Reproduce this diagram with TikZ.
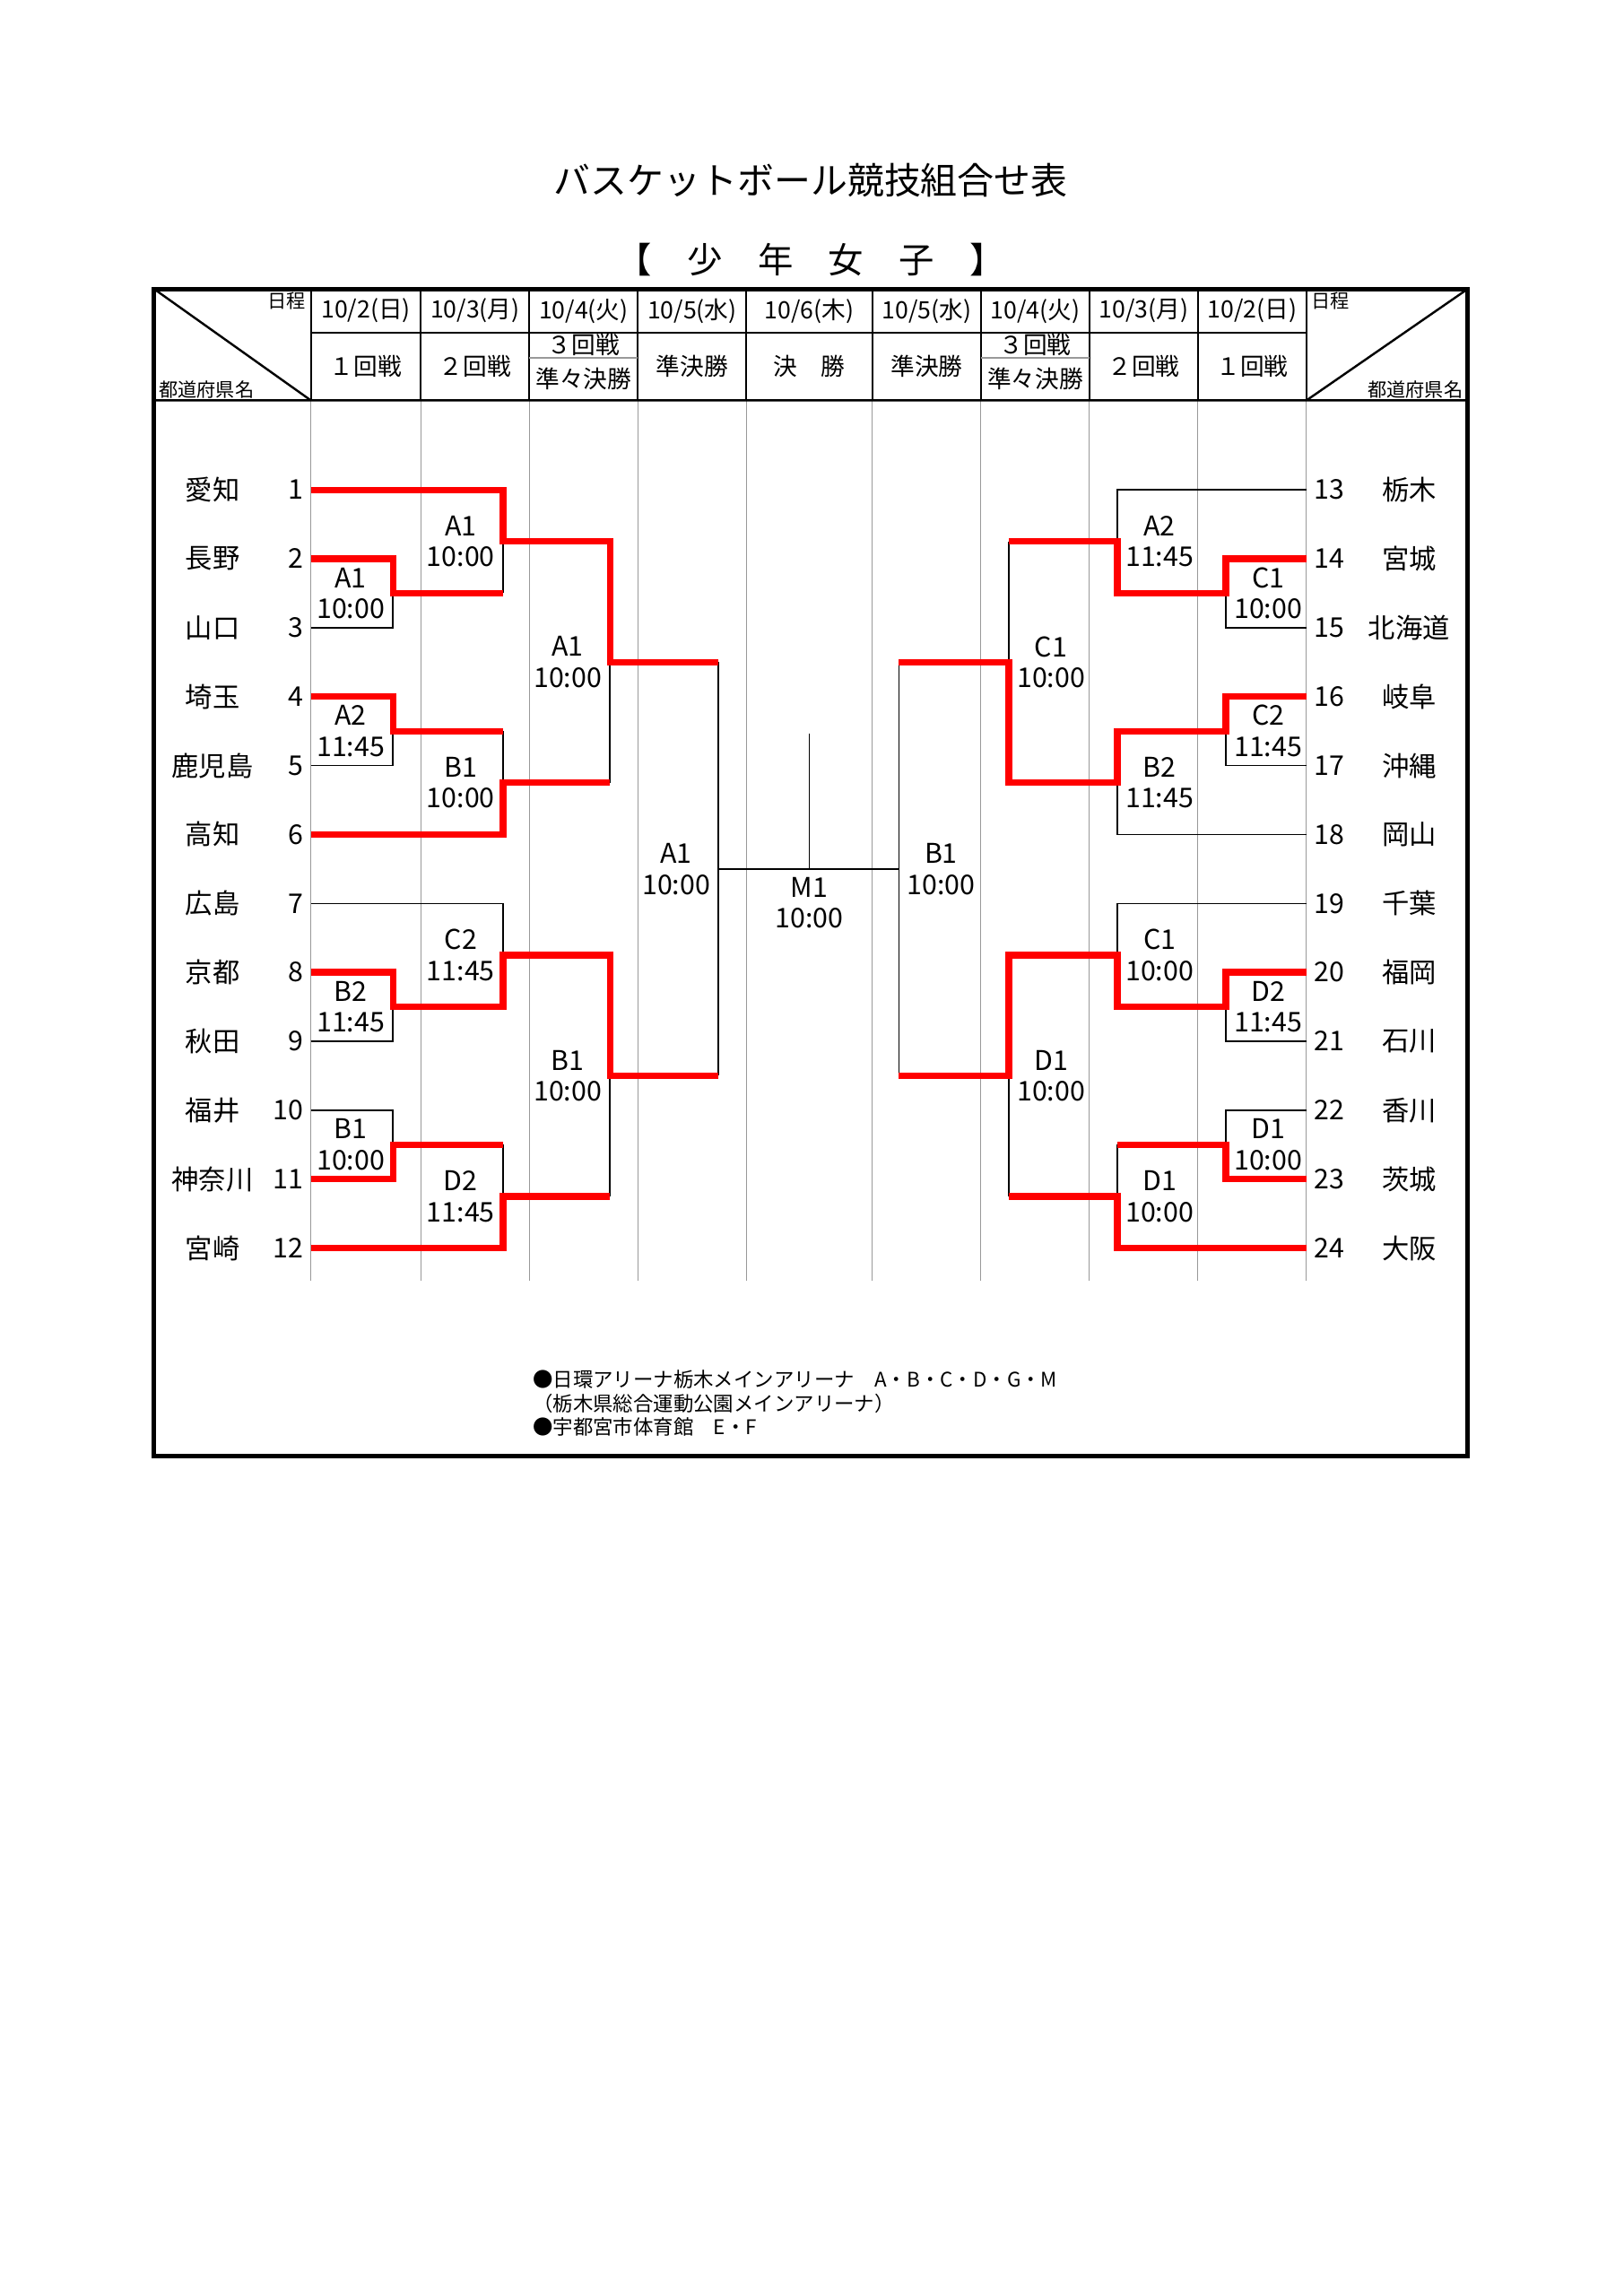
\documentclass[tikz,border=0pt]{standalone}
\usepackage{fontspec}
\setmainfont{Noto Sans CJK JP}
\usetikzlibrary{positioning, calc}

\newcommand{\bout}[4]{\path (#3 -| #2) coordinate (#1t) (#4 -| #2) coordinate (#1b) ($(#1t)!.5!(#1b)$) coordinate (#1);}

\begin{document}
\begin{tikzpicture}[x=0.1897mm, y=-0.1897mm,
    win/.style={red, line width=2.4pt},
    lose/.style={black, line width=0.5pt},
    gline/.style={black!40, line width=0.35pt},
    cell/.style={black, line width=0.6pt},
    team/.style={font=\fontsize{10}{12}\selectfont, inner sep=0pt},
    game/.style={font=\fontsize{10}{11.4}\selectfont, align=center, inner sep=0pt},
    head/.style={font=\fontsize{8.8}{10}\selectfont, inner sep=0pt},
    small/.style={font=\fontsize{7}{9}\selectfont, inner sep=0pt}]
  \useasboundingbox (0,0) rectangle (1107,1565.6);

  \node[font=\fontsize{13.5}{16}\selectfont] (title) at (553,123) {バスケットボール競技組合せ表};
  \node[font=\fontsize{13}{16}\selectfont] (sub) at (553,177) {【　少　年　女　子　】};

  % table
  \foreach \x in {212,287,361,435,509,595,669,743,817,891} {
    \draw[gline] (\x,273) -- (\x,873);
    \draw[cell] (\x,197) -- (\x,273);
  }
  \draw[cell] (212,227) -- (891,227);
  \draw[gline] (361,244) -- (435,244) (669,244) -- (743,244);
  \draw[black, line width=0.8pt] (105,273) -- (1001,273) (105,197) -- (212,273) (891,273) -- (1001,197);
  \draw[black, line width=1.6pt] (105,197) rectangle (1001,993);

  \node[small, anchor=north east] (lsch) at (209,199) {日程};
  \node[small, anchor=south west] (lpref) at (108,272) {都道府県名};
  \node[small, anchor=north west] (rsch) at (894,199) {日程};
  \node[small, anchor=south east] (rpref) at (998,272) {都道府県名};

  \foreach \x/\d [count=\i] in {249.5/{10/2(日)}, 324/{10/3(月)}, 398/{10/4(火)}, 472/{10/5(水)}, 552/{10/6(木)},
      632/{10/5(水)}, 706/{10/4(火)}, 780/{10/3(月)}, 854/{10/2(日)}}
    \node[head] (d\i) at (\x,212) {\d};
  \foreach \x/\r [count=\i] in {249.5/１回戦, 324/２回戦, 472/準決勝, 552/決　勝, 632/準決勝, 780/２回戦, 854/１回戦}
    \node[head] (r\i) at (\x,250) {\r};
  \foreach \x [count=\i] in {398,706} {
    \node[head] (s\i) at (\x,235) {３回戦};
    \node[head] (q\i) at (\x,258) {準々決勝};
  }

  % teams
  \foreach \n/\nm [count=\i from 0] in {1/愛知, 2/長野, 3/山口, 4/埼玉, 5/鹿児島, 6/高知,
      7/広島, 8/京都, 9/秋田, 10/福井, 11/神奈川, 12/宮崎} {
    \coordinate (t\n) at (212,{334+47*\i});
    \node[team] (nm\n) at (145,{334+47*\i}) {\nm};
    \node[team, anchor=east] (no\n) at (207,{334+47*\i}) {\n};
  }
  \foreach \n/\nm [count=\i from 0] in {13/栃木, 14/宮城, 15/北海道, 16/岐阜, 17/沖縄, 18/岡山,
      19/千葉, 20/福岡, 21/石川, 22/香川, 23/茨城, 24/大阪} {
    \coordinate (t\n) at (891,{334+47*\i});
    \node[team, anchor=west] (no\n) at (896,{334+47*\i}) {\n};
    \node[team] (nm\n) at (961,{334+47*\i}) {\nm};
  }

  % bracket
  \coordinate (k1) at (268,0); \coordinate (k2) at (343,0); \coordinate (k3) at (416,0); \coordinate (kS) at (490,0);
  \coordinate (j1) at (836,0); \coordinate (j2) at (762,0); \coordinate (j3) at (688,0); \coordinate (jS) at (613,0);
  \bout{L1a}{k1}{t2}{t3} \bout{L1b}{k1}{t4}{t5} \bout{L1c}{k1}{t8}{t9} \bout{L1d}{k1}{t10}{t11}
  \bout{L2a}{k2}{t1}{L1a} \bout{L2b}{k2}{L1b}{t6} \bout{L2c}{k2}{t7}{L1c} \bout{L2d}{k2}{L1d}{t12}
  \bout{L3a}{k3}{L2a}{L2b} \bout{L3b}{k3}{L2c}{L2d} \bout{LS}{kS}{L3a}{L3b}
  \bout{R1a}{j1}{t14}{t15} \bout{R1b}{j1}{t16}{t17} \bout{R1c}{j1}{t20}{t21} \bout{R1d}{j1}{t22}{t23}
  \bout{R2a}{j2}{t13}{R1a} \bout{R2b}{j2}{R1b}{t18} \bout{R2c}{j2}{t19}{R1c} \bout{R2d}{j2}{R1d}{t24}
  \bout{R3a}{j3}{R2a}{R2b} \bout{R3b}{j3}{R2c}{R2d} \bout{RS}{jS}{R3a}{R3b}
  \coordinate (stub) at (552,500);

  \draw[lose] (t3) -- (L1ab) -- (L1a) (t5) -- (L1bb) -- (L1b) (t9) -- (L1cb) -- (L1c) (t10) -- (L1dt) -- (L1d)
    (L2ab) -- (L2a) (L2bt) -- (L2b) (t7) -- (L2ct) -- (L2c) (L2dt) -- (L2d)
    (L3ab) -- (L3a) (L3bb) -- (L3b) (LSt) -- (LSb)
    (t15) -- (R1ab) -- (R1a) (t17) -- (R1bb) -- (R1b) (t21) -- (R1cb) -- (R1c) (t22) -- (R1dt) -- (R1d)
    (t13) -- (R2at) -- (R2a) (t18) -- (R2bb) -- (R2b) (t19) -- (R2ct) -- (R2c) (R2dt) -- (R2d)
    (R3at) -- (R3a) (R3bb) -- (R3b) (RSt) -- (RSb)
    (LS) -- (RS) (stub) -- (stub |- LS);
  \draw[win] (t1) -- (L2at) -- (L2a) -- (L3at) -- (L3a) -- (LSt)
    (t2) -- (L1at) -- (L1a) -- (L2ab)
    (t4) -- (L1bt) -- (L1b) -- (L2bt)
    (t6) -- (L2bb) -- (L2b) -- (L3ab)
    (t8) -- (L1ct) -- (L1c) -- (L2cb) -- (L2c) -- (L3bt) -- (L3b) -- (LSb)
    (t11) -- (L1db) -- (L1d) -- (L2dt)
    (t12) -- (L2db) -- (L2d) -- (L3bb)
    (t14) -- (R1at) -- (R1a) -- (R2ab) -- (R2a) -- (R3at)
    (t16) -- (R1bt) -- (R1b) -- (R2bt) -- (R2b) -- (R3ab) -- (R3a) -- (RSt)
    (t20) -- (R1ct) -- (R1c) -- (R2cb) -- (R2c) -- (R3bt) -- (R3b) -- (RSb)
    (t23) -- (R1db) -- (R1d) -- (R2dt)
    (t24) -- (R2db) -- (R2d) -- (R3bb);

  \foreach \m/\c/\h in {L1a/A1/10:00, L1b/A2/11:45, L1c/B2/11:45, L1d/B1/10:00, L2a/A1/10:00, L2b/B1/10:00,
      L2c/C2/11:45, L2d/D2/11:45, L3a/A1/10:00, L3b/B1/10:00, LS/A1/10:00}
    \node[game, left=1mm of \m] (g\m) {\c\\\h};
  \foreach \m/\c/\h in {R1a/C1/10:00, R1b/C2/11:45, R1c/D2/11:45, R1d/D1/10:00, R2a/A2/11:45, R2b/B2/11:45,
      R2c/C1/10:00, R2d/D1/10:00, R3a/C1/10:00, R3b/D1/10:00, RS/B1/10:00}
    \node[game, right=1mm of \m] (g\m) {\c\\\h};
  \node[game, below=1mm of stub |- LS] (gM) {M1\\10:00};

  \node[font=\fontsize{7.4}{8.7}\selectfont, align=left, anchor=north west, inner sep=0pt] (venue) at (363,934)
    {●日環アリーナ栃木メインアリーナ　A・B・C・D・G・M\\（栃木県総合運動公園メインアリーナ）\\●宇都宮市体育館　E・F};
\end{tikzpicture}
\end{document}
